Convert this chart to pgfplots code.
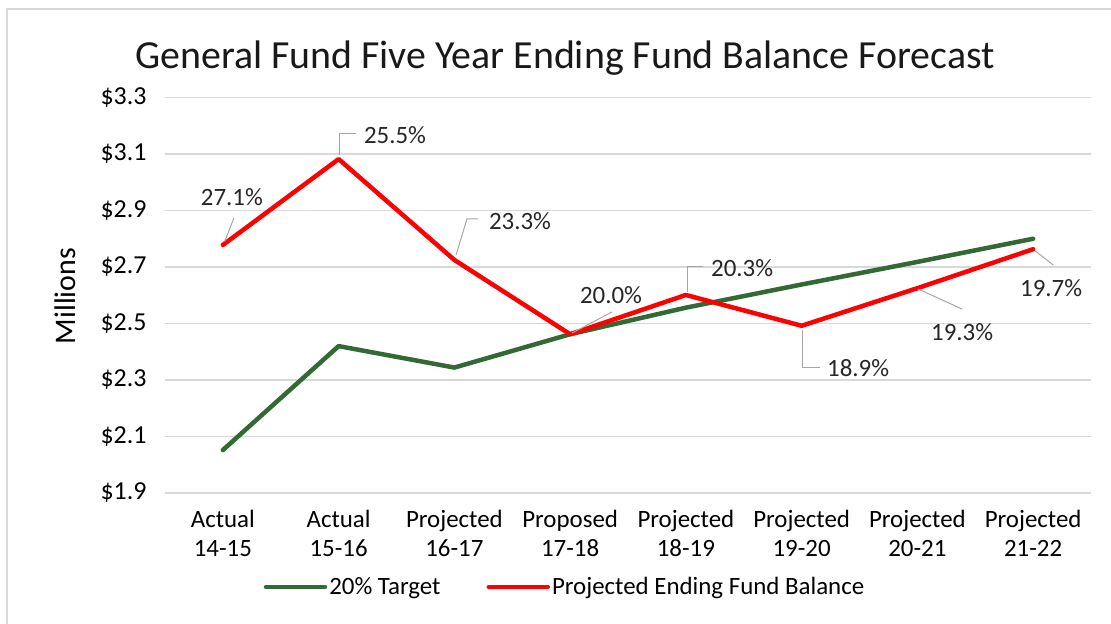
\documentclass[border=0pt]{standalone}
\usepackage{fontspec}
\setmainfont{Carlito}
\usepackage{pgfplots}
\pgfplotsset{compat=1.18}
\definecolor{tgtgreen}{RGB}{50,105,52}
\definecolor{balred}{RGB}{255,0,0}
\definecolor{gridc}{RGB}{217,217,217}
\definecolor{leadc}{RGB}{166,166,166}
\definecolor{framec}{RGB}{217,217,217}

\newcommand{\lbl}{\fontsize{25}{29}\selectfont}

\begin{document}
\begin{tikzpicture}
\begin{axis}[
  scale only axis, width=926bp, height=395.5bp,
  at={(0,0)}, anchor=south west,
  xmin=-0.5, xmax=7.5, ymin=1.9, ymax=3.3,
  axis line style={draw=none},
  ymajorgrids, grid style={gridc, line width=1.2bp},
  major tick length=0pt,
  xtick={0,1,2,3,4,5,6,7},
  xticklabels={{Actual\\14-15},{Actual\\15-16},{Projected\\16-17},{Proposed\\17-18},
               {Projected\\18-19},{Projected\\19-20},{Projected\\20-21},{Projected\\21-22}},
  xticklabel style={align=center, font=\lbl, yshift=-14bp},
  ytick={1.9,2.1,2.3,2.5,2.7,2.9,3.1,3.3},
  yticklabels={\$1.9,\$2.1,\$2.3,\$2.5,\$2.7,\$2.9,\$3.1,\$3.3},
  yticklabel style={font=\fontsize{26}{30}\selectfont, xshift=-15bp},
  ylabel={Millions},
  ylabel style={font=\fontsize{30}{34}\selectfont, at={(axis description cs:-0.108,0.498)}, anchor=center},
  legend columns=2,
  legend style={at={(axis description cs:0.432,-0.2377)}, anchor=center,
    draw=none, fill=none, font=\lbl,
    nodes={inner sep=2bp},
    /tikz/every even column/.append style={column sep=44bp}},
  legend image code/.code={\draw[#1] (0bp,0bp) -- (59bp,0bp);},
  every axis plot/.append style={line width=4.5bp, line join=round, line cap=round},
]
\addplot[tgtgreen, mark=none] coordinates {
  (0,2.052) (1,2.420) (2,2.344) (3,2.462) (4,2.556) (5,2.638) (6,2.718) (7,2.800)};
\addlegendentry{20\% Target}
\addplot[balred, mark=none] coordinates {
  (0,2.778) (1,3.082) (2,2.725) (3,2.462) (4,2.601) (5,2.492) (6,2.625) (7,2.763)};
\addlegendentry{Projected Ending Fund Balance}

% data labels with leader lines
\begin{scope}[leadc, line width=1bp]
\draw (axis cs:0.015,2.790) -- (axis cs:0.095,2.873);
\draw (axis cs:1.011,3.096) -- (axis cs:1.011,3.174) -- (axis cs:1.150,3.174);
\draw (axis cs:2.014,2.742) -- (axis cs:2.109,2.870) -- (axis cs:2.204,2.870);
\draw (axis cs:3.016,2.466) -- (axis cs:3.362,2.541);
\draw (axis cs:4.010,2.612) -- (axis cs:4.010,2.700) -- (axis cs:4.149,2.700);
\draw (axis cs:5.004,2.477) -- (axis cs:5.004,2.346) -- (axis cs:5.160,2.346);
\draw (axis cs:6.007,2.622) -- (axis cs:6.387,2.551);
\draw (axis cs:7.018,2.757) -- (axis cs:7.174,2.707);
\end{scope}
\begin{scope}[every node/.style={font=\lbl, text=black!85, inner sep=0pt}]
\node at (axis cs:0.078,2.948) {27.1\%};
\node at (axis cs:1.487,3.167) {25.5\%};
\node at (axis cs:2.567,2.863) {23.3\%};
\node at (axis cs:3.353,2.601) {20.0\%};
\node at (axis cs:4.486,2.696) {20.3\%};
\node at (axis cs:5.488,2.342) {18.9\%};
\node at (axis cs:6.387,2.470) {19.3\%};
\node at (axis cs:7.156,2.626) {19.7\%};
\end{scope}
\end{axis}

\node[font=\fontsize{40}{46}\selectfont, anchor=base, text=black!90] at (400bp,424bp)
  {General Fund Five Year Ending Fund Balance Forecast};
\draw[framec, line width=2.5bp] (-158bp,-131bp) -- (-158bp,484bp) -- (946bp,484bp);

\pgfresetboundingbox
\path[use as bounding box] (-165bp,-131bp) rectangle (946bp,493bp);
\end{tikzpicture}
\end{document}
